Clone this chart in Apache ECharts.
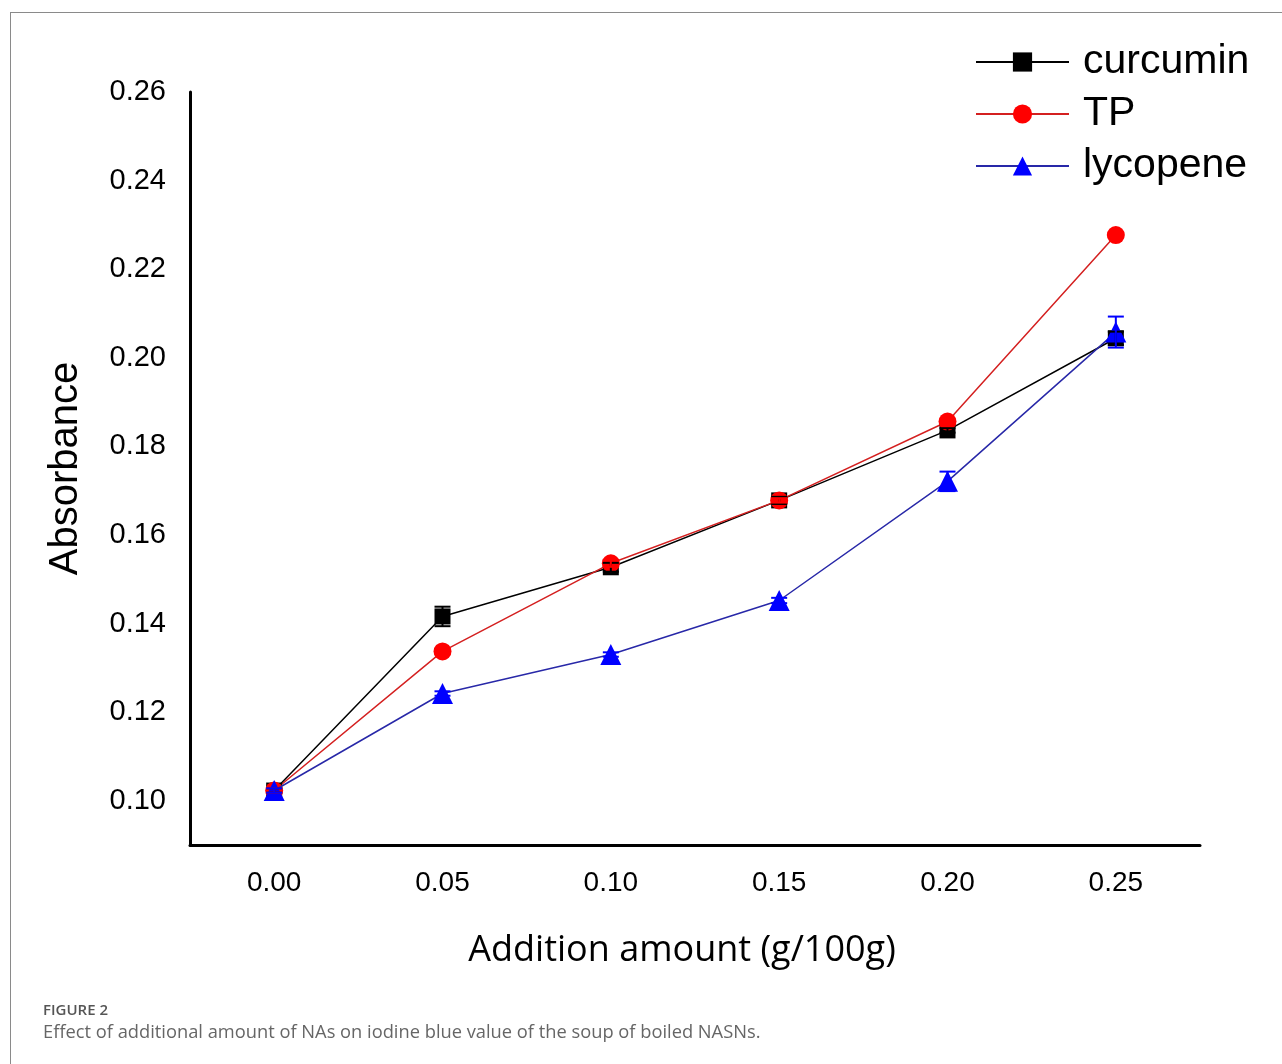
<!DOCTYPE html>
<html>
<head>
<meta charset="utf-8">
<script src="https://cdn.jsdelivr.net/npm/echarts@6/dist/echarts.min.js"></script>
<style>
  html, body { margin: 0; padding: 0; background: #fff; }
  #main { width: 1282px; height: 1064px; }
</style>
</head>
<body>
<div id="main"></div>
<script>
var chart = echarts.init(document.getElementById('main'));

// data
var categories = ['0.00', '0.05', '0.10', '0.15', '0.20', '0.25'];
var curcumin = [0.1023, 0.1416, 0.1527, 0.1678, 0.1836, 0.2044];
var curcuminErr = [0.0005, 0.0022, 0.0010, 0.0008, 0.0005, 0.0015];
var tp = [0.1023, 0.1337, 0.1536, 0.1678, 0.1856, 0.2277];
var tpErr = [0.0005, 0.0005, 0.0008, 0.0005, 0.0005, 0.0005];
var lycopene = [0.1023, 0.1242, 0.1330, 0.1452, 0.1721, 0.2058];
var lycopeneErr = [0.0005, 0.0005, 0.0005, 0.0006, 0.0022, 0.0035];

function errData(vals, errs) {
  return vals.map(function (v, i) { return [i, v - errs[i], v + errs[i]]; });
}

function errSeries(name, vals, errs, color) {
  return {
    name: name + ' err',
    type: 'custom',
    z: 5,
    silent: true,
    data: errData(vals, errs),
    renderItem: function (params, api) {
      var lo = api.coord([api.value(0), api.value(1)]);
      var hi = api.coord([api.value(0), api.value(2)]);
      var w = 8;
      var st = { stroke: color, lineWidth: 2 };
      return {
        type: 'group',
        children: [
          { type: 'line', shape: { x1: lo[0], y1: lo[1], x2: hi[0], y2: hi[1] }, style: st },
          { type: 'line', shape: { x1: lo[0] - w, y1: lo[1], x2: lo[0] + w, y2: lo[1] }, style: st },
          { type: 'line', shape: { x1: hi[0] - w, y1: hi[1], x2: hi[0] + w, y2: hi[1] }, style: st }
        ]
      };
    }
  };
}

var option = {
  animation: false,
  backgroundColor: '#fff',
  grid: { left: 190, right: 82, top: 92, bottom: 219 },
  legend: {
    orient: 'vertical',
    left: 975,
    top: 36,
    padding: 0,
    itemWidth: 93,
    itemHeight: 24,
    itemGap: 0,
    data: ['curcumin', 'TP', 'lycopene'],
    textStyle: { fontFamily: 'Liberation Sans', fontSize: 41, color: '#000', lineHeight: 52, padding: [0, 0, 0, 9] }
  },
  xAxis: {
    type: 'category',
    data: categories,
    boundaryGap: true,
    name: 'Addition amount (g/100g)',
    nameLocation: 'middle',
    nameGap: 88,
    nameTextStyle: { fontFamily: 'Open Sans', fontSize: 36, color: '#000', padding: [0, 26, 0, 0] },
    axisLine: { lineStyle: { color: '#000', width: 3 } },
    axisTick: { show: false },
    axisLabel: { fontFamily: 'Liberation Sans', fontSize: 28, color: '#000', margin: 24 },
    splitLine: { show: false }
  },
  yAxis: {
    type: 'value',
    min: 0.09,
    max: 0.26,
    interval: 0.01,
    name: 'Absorbance',
    nameLocation: 'middle',
    nameGap: 104,
    nameTextStyle: { fontFamily: 'Liberation Sans', fontSize: 40, color: '#000' },
    axisLine: { show: true, lineStyle: { color: '#000', width: 3 } },
    axisTick: { show: false },
    splitLine: { show: false },
    axisLabel: {
      fontFamily: 'Liberation Sans', fontSize: 29, color: '#000', margin: 24,
      formatter: function (v) {
        var k = Math.round(v * 100);
        return (k % 2 === 0 && k >= 10) ? (k / 100).toFixed(2) : '';
      }
    }
  },
  series: [
    {
      name: 'curcumin', type: 'line', data: curcumin,
      symbol: 'rect', symbolSize: 16,
      itemStyle: { color: '#000' },
      lineStyle: { color: '#000', width: 1.5 },
      z: 3
    },
    {
      name: 'TP', type: 'line', data: tp,
      symbol: 'circle', symbolSize: 18,
      itemStyle: { color: '#ff0000' },
      lineStyle: { color: '#d42020', width: 1.5 },
      z: 3
    },
    {
      name: 'lycopene', type: 'line', data: lycopene,
      symbol: 'triangle', symbolSize: 21,
      itemStyle: { color: '#0000ff' },
      lineStyle: { color: '#2828a8', width: 1.5 },
      z: 4
    },
    errSeries('curcumin', curcumin, curcuminErr, '#000'),
    errSeries('TP', tp, tpErr, '#ff0000'),
    errSeries('lycopene', lycopene, lycopeneErr, '#0000ff')
  ],
  graphic: [
    { type: 'line', shape: { x1: 10, y1: 12.5, x2: 1282, y2: 12.5 }, style: { stroke: '#8a8a8a', lineWidth: 1 } },
    { type: 'line', shape: { x1: 10.5, y1: 12, x2: 10.5, y2: 1064 }, style: { stroke: '#8a8a8a', lineWidth: 1 } },
    { type: 'text', left: 43, top: 1003, style: { text: 'FIGURE 2', fontFamily: 'Open Sans', fontSize: 15, fontWeight: 600, fill: '#555' } },
    { type: 'text', left: 43, top: 1024, style: { text: 'Effect of additional amount of NAs on iodine blue value of the soup of boiled NASNs.', fontFamily: 'Open Sans', fontSize: 18.3, fill: '#666' } }
  ]
};
chart.setOption(option);
</script>
</body>
</html>
